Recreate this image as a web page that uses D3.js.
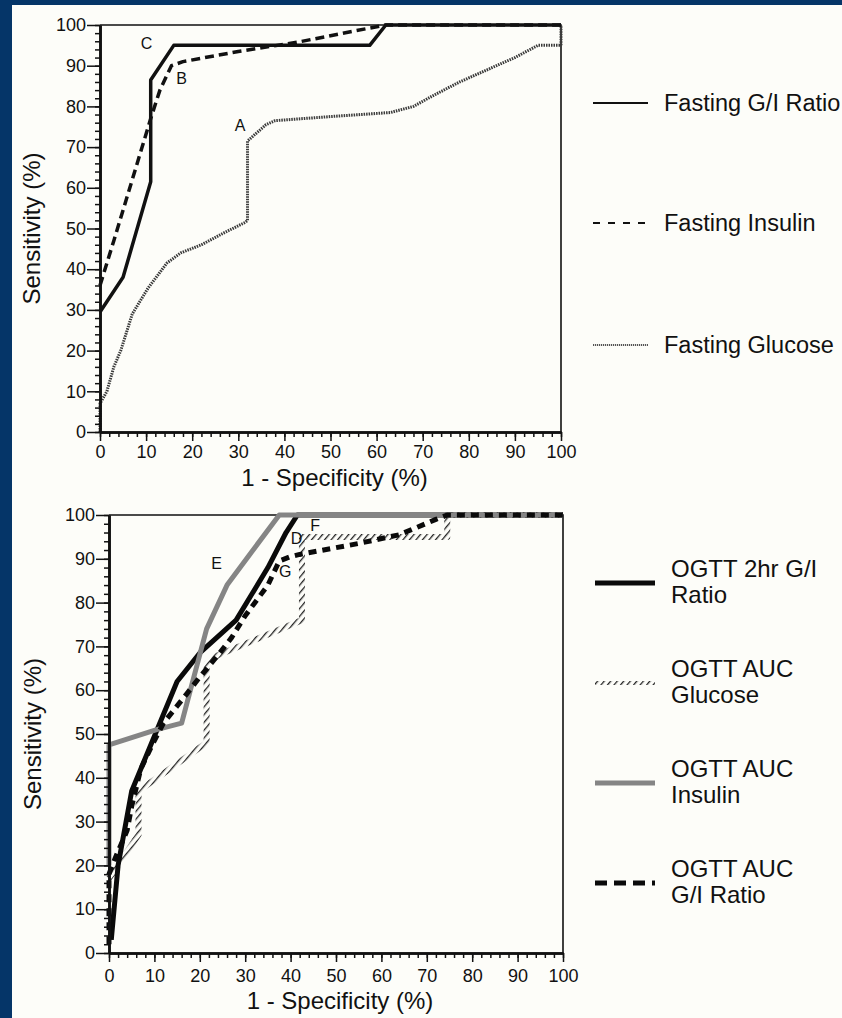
<!DOCTYPE html>
<html>
<head>
<meta charset="utf-8">
<script src="https://cdn.jsdelivr.net/npm/d3@7"></script>
<style>
  html, body { margin: 0; padding: 0; background: #053568; }
  svg { display: block; font-family: "Liberation Sans", Arial, Helvetica, sans-serif; }
</style>
</head>
<body>
<svg id="chart" width="842" height="1018"></svg>
<script>
// tick labels (both axes, both panels)
const majorTicks = [0, 10, 20, 30, 40, 50, 60, 70, 80, 90, 100];
const minorTicks = d3.range(0, 101, 2);

// top panel: [1 - specificity, sensitivity]
const fastingGIRatio = [[0, 29.5], [5, 38], [11, 61.5], [11, 86.5], [16, 95], [58.5, 95], [62, 100], [100, 100]];
const fastingInsulin = [[0, 36], [3, 47], [7, 62], [11, 77], [13, 84], [15.5, 90], [18, 91], [30, 93.5], [43, 95.8], [55, 98.5], [62, 100], [100, 100]];
const fastingGlucose = [[0, 0], [0, 7], [1.5, 10], [3, 16], [4.5, 20], [7, 29], [10.5, 35.5], [14.5, 41.5], [17.5, 44], [22, 46],
  [27, 49], [31.5, 51.5], [32, 52], [32, 71.5], [36, 75.5], [38, 76.5], [50, 77.5], [63, 78.5], [68, 80], [72, 82.5],
  [78, 86], [85, 89.5], [90, 92], [95, 95], [100, 95], [100, 100]];
const topNotes = [["C", 10.1, 95.5], ["B", 17.7, 86.9], ["A", 30.4, 75.4]];

// bottom panel
const ogtt2hrGIRatio = [[0.5, 3], [2, 20], [5, 37], [11, 52], [15, 62], [20, 68.5], [28, 76], [35, 88], [39, 96], [41.5, 100], [100, 100]];
const ogttAUCGlucose = [[0, 17], [6.5, 27], [6.5, 37], [21.5, 48], [21.5, 66], [24, 68], [31, 71], [42.5, 76], [42.5, 95], [74.5, 95], [74.5, 100], [100, 100]];
const ogttAUCInsulin = [[0, 20], [0, 47.5], [10.5, 51], [16, 52.5], [21.5, 74], [26, 84], [31, 91], [37.5, 100], [100, 100]];
const ogttAUCGIRatio = [[0, 2], [0, 18], [1.5, 22], [4, 28], [5, 33.5], [7, 42], [9.5, 47.5], [12, 52.5], [17, 59], [20, 63],
  [24, 68], [27, 72], [30, 77], [35, 84], [37.5, 89.5], [40, 90.5], [42, 91], [55, 93.5], [64, 95.5], [72, 99], [74.5, 100], [100, 100]];
const bottomNotes = [["E", 23.7, 89], ["D", 41.3, 94.7], ["F", 45.4, 97.7], ["G", 38.8, 87.1]];

const svg = d3.select("#chart");

const defs = svg.append("defs");
defs.append("pattern")
  .attr("id", "hatch")
  .attr("patternUnits", "userSpaceOnUse")
  .attr("width", 5).attr("height", 5)
  .attr("patternTransform", "rotate(40)")
  .append("rect")
  .attr("width", 1.3).attr("height", 5)
  .attr("fill", "#222");

// white sheet on the navy slide
svg.append("rect")
  .attr("x", 12).attr("y", 5)
  .attr("width", 842 - 12).attr("height", 1018 - 5)
  .attr("fill", "#fdfdf9");

const styles = {
  giSolid:    { stroke: "#111", width: 3.5 },
  insDash:    { stroke: "#111", width: 3.5, dash: "9,5" },
  gluDot:     { stroke: "#3a3a3a", width: 3, dash: "1.5,1" },
  giThick:    { stroke: "#0a0a0a", width: 5 },
  hatch:      { stroke: "url(#hatch)", width: 6 },
  grey:       { stroke: "#858585", width: 5 },
  dashThick:  { stroke: "#0a0a0a", width: 5, dash: "8,6" }
};

function panel(box, series, notes, labelGap) {
  const x = d3.scaleLinear().domain([0, 100]).range([box.x0, box.x1]);
  const y = d3.scaleLinear().domain([0, 100]).range([box.y0, box.y1]);
  const g = svg.append("g");

  // frame top / right
  g.append("path")
    .attr("d", `M${x(0)},${y(100)}H${x(100)}V${y(0)}`)
    .attr("fill", "none").attr("stroke", "#111").attr("stroke-width", 1.6);

  const line = d3.line().x(d => x(d[0])).y(d => y(d[1]));
  series.forEach(s => {
    g.append("path")
      .attr("d", line(s.data))
      .attr("fill", "none")
      .attr("stroke", s.style.stroke)
      .attr("stroke-width", s.style.width)
      .attr("stroke-dasharray", s.style.dash || null)
      .attr("stroke-linejoin", "round");
  });

  // axes
  const xMinor = g.append("g").attr("transform", `translate(0,${y(0)})`)
    .call(d3.axisBottom(x).tickValues(minorTicks).tickSize(5).tickSizeOuter(0).tickFormat(""));
  const xMajor = g.append("g").attr("transform", `translate(0,${y(0)})`)
    .call(d3.axisBottom(x).tickValues(majorTicks).tickSize(9).tickPadding(labelGap).tickSizeOuter(0));
  const yMinor = g.append("g").attr("transform", `translate(${x(0)},0)`)
    .call(d3.axisLeft(y).tickValues(minorTicks).tickSize(5).tickSizeOuter(0).tickFormat(""));
  const yMajor = g.append("g").attr("transform", `translate(${x(0)},0)`)
    .call(d3.axisLeft(y).tickValues(majorTicks).tickSize(13).tickPadding(1).tickSizeOuter(0));

  [xMinor, xMajor, yMinor, yMajor].forEach(a => {
    a.selectAll("line").attr("stroke", "#111").attr("stroke-width", 1.5);
    a.select(".domain").attr("stroke", "#111").attr("stroke-width", 2.6);
    a.selectAll("text").attr("fill", "#111").attr("font-size", 18).attr("font-family", null);
  });

  g.append("text")
    .attr("x", (box.x0 + box.x1) / 2 + 4).attr("y", box.titleY)
    .attr("text-anchor", "middle").attr("font-size", 24).attr("fill", "#111")
    .text("1 - Specificity (%)");
  g.append("text")
    .attr("transform", `translate(${box.yTitleX},${(box.y0 + box.y1) / 2}) rotate(-90)`)
    .attr("text-anchor", "middle").attr("font-size", 24).attr("fill", "#111")
    .text("Sensitivity (%)");

  g.selectAll(".note").data(notes).join("text")
    .attr("class", "note")
    .attr("x", d => x(d[1])).attr("y", d => y(d[2]))
    .attr("dy", "0.36em").attr("text-anchor", "middle")
    .attr("font-size", 16).attr("fill", "#111")
    .text(d => d[0]);
}

panel({ x0: 100, x1: 561, y0: 432, y1: 25, titleY: 486, yTitleX: 40 }, [
  { data: fastingGlucose, style: styles.gluDot },
  { data: fastingInsulin, style: styles.insDash },
  { data: fastingGIRatio, style: styles.giSolid }
], topNotes, 4);

panel({ x0: 109, x1: 563, y0: 953, y1: 515, titleY: 1009, yTitleX: 41 }, [
  { data: ogttAUCGlucose, style: styles.hatch },
  { data: ogtt2hrGIRatio, style: styles.giThick },
  { data: ogttAUCInsulin, style: styles.grey },
  { data: ogttAUCGIRatio, style: styles.dashThick }
], bottomNotes, 7);

// legends
function legend(items, x0, x1, tx, size) {
  const g = svg.append("g");
  items.forEach(it => {
    g.append("line")
      .attr("x1", x0).attr("x2", x1).attr("y1", it.y).attr("y2", it.y)
      .attr("stroke", it.style.stroke).attr("stroke-width", it.style.width)
      .attr("stroke-dasharray", it.style.dash || null);
    const t = g.append("text").attr("font-size", size).attr("fill", "#111");
    it.lines.forEach((l, i) => {
      t.append("tspan").attr("x", tx)
        .attr("y", it.y + (it.lines.length === 1 ? 0 : (i === 0 ? -15 : 11)))
        .attr("dy", "0.36em").text(l);
    });
  });
}

legend([
  { y: 103, lines: ["Fasting G/I Ratio"], style: { stroke: "#111", width: 2 } },
  { y: 223, lines: ["Fasting Insulin"], style: { stroke: "#111", width: 2, dash: "7,8" } },
  { y: 345, lines: ["Fasting Glucose"], style: { stroke: "#555", width: 2, dash: "1.2,0.8" } }
], 593, 648, 664, 23.5);

legend([
  { y: 583, lines: ["OGTT 2hr G/I", "Ratio"], style: { stroke: "#0a0a0a", width: 5 } },
  { y: 683, lines: ["OGTT AUC", "Glucose"], style: { stroke: "url(#hatch)", width: 4 } },
  { y: 783, lines: ["OGTT AUC", "Insulin"], style: { stroke: "#858585", width: 5 } },
  { y: 883, lines: ["OGTT AUC", "G/I Ratio"], style: { stroke: "#0a0a0a", width: 5, dash: "12,7" } }
], 595, 655, 671, 24);
</script>
</body>
</html>
